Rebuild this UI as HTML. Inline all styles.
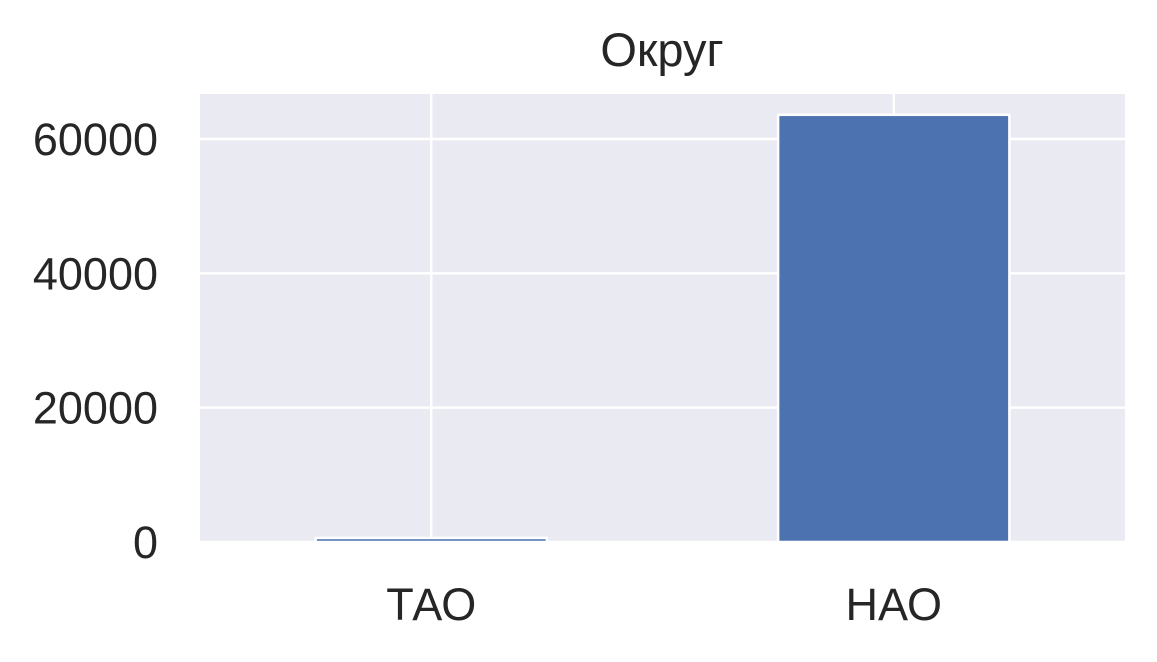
<!DOCTYPE html>
<html><head><meta charset="utf-8"><style>
body{margin:0;background:#fff;}
svg text{font-family:"Liberation Sans","DejaVu Sans",sans-serif;fill:#262626;}
</style></head><body>
<svg width="1157" height="657">
<text x="662" y="66" font-size="47" text-anchor="middle">Округ</text>
<rect x="200" y="94" width="925" height="448" fill="#eaeaf2"/>
<g id="grid"></g><g id="bars"></g><g id="ticks"></g>
</svg>
<script>
const categories=["ТАО","НАО"];
const values=[600,63600];
const yTicks=[0,20000,40000,60000];
const X0=200,X1=1125,Y0=542,Y1=94,YMAX=66700;
const ns="http://www.w3.org/2000/svg";
const xs=i=>X0+(i+0.5)*(X1-X0)/categories.length;
const ys=v=>Y0-(v/YMAX)*(Y0-Y1);
const grid=document.getElementById('grid'),bars=document.getElementById('bars'),ticks=document.getElementById('ticks');
function mk(t,a){const e=document.createElementNS(ns,t);for(const k in a)e.setAttribute(k,a[k]);return e;}
yTicks.forEach(v=>{
 const l=mk('line',{x1:X0,x2:X1,y1:ys(v),y2:ys(v),stroke:'#fff','stroke-width':2.5});
 
 
 grid.appendChild(l);
 const t=mk('text',{x:158,y:ys(v)+16,'font-size':45,'text-anchor':'end'});
 t.textContent=v;
 
 
 ticks.appendChild(t);
});
const bw=(X1-X0)/categories.length*0.5;
categories.forEach((c,i)=>{
 const l=mk('line',{x1:xs(i),x2:xs(i),y1:Y1,y2:Y0,stroke:'#fff','stroke-width':2.5});
 
 
 grid.appendChild(l);
 const r=mk('rect',{x:xs(i)-bw/2,y:ys(values[i]),width:bw,height:Y0-ys(values[i]),fill:'#4c72b0',stroke:'#fff','stroke-width':2.5});
 
 
 bars.appendChild(r);
 const t=mk('text',{x:xs(i),y:620,'font-size':45,'text-anchor':'middle'});
 t.textContent=c;
 
 
 ticks.appendChild(t);
});
</script>
</body></html>
